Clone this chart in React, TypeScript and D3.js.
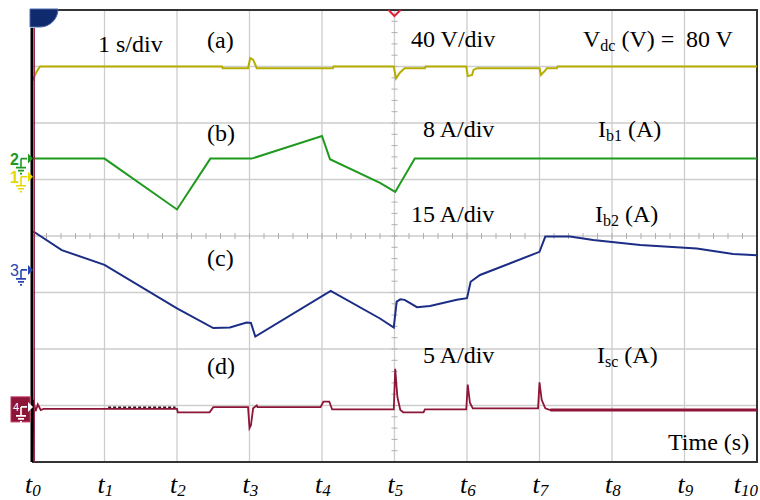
import React from 'react';
import * as d3 from 'd3';

// time in seconds (1 s/div), amplitude in screen divisions (0 = centre line)
const timeLabels = ['0', '1', '2', '3', '4', '5', '6', '7', '8', '9', '10'];

const vdcTrace: [number, number][] = [
    [0.01, 2.75], [0.06, 2.9], [0.11, 3.0], [2.62, 3.0], [2.63, 2.97], [2.98, 2.97],
    [3.01, 3.15], [3.05, 3.12], [3.1, 2.97], [4.15, 2.97], [4.16, 3.0], [4.99, 3.0],
    [5.02, 2.79], [5.08, 2.9], [5.14, 2.97], [5.42, 2.97], [5.43, 3.0], [5.99, 3.0],
    [6.01, 2.83], [6.07, 2.85], [6.09, 2.94], [6.14, 2.97], [7.0, 2.97], [7.02, 2.85],
    [7.08, 2.93], [7.1, 2.97], [7.24, 2.97], [7.25, 3.0], [10, 3.0],
];

const ib1Trace: [number, number][] = [
    [0.01, 1.37], [1.0, 1.37], [2.0, 0.47], [2.46, 1.37], [3.03, 1.37], [4.0, 1.77],
    [4.11, 1.36], [4.8, 0.94], [5.01, 0.78], [5.28, 1.37], [10, 1.37],
];

const ib2Trace: [number, number][] = [
    [0.02, 0.08], [0.41, -0.25], [1.0, -0.51], [2.0, -1.28], [2.5, -1.63], [2.73, -1.62],
    [2.96, -1.53], [3.02, -1.54], [3.08, -1.78], [4.12, -0.97], [4.8, -1.46], [4.99, -1.62],
    [5.03, -1.16], [5.08, -1.12], [5.14, -1.13], [5.31, -1.26], [5.49, -1.24], [5.86, -1.13],
    [6.0, -1.1], [6.05, -0.81], [6.18, -0.69], [7.0, -0.28], [7.08, -0.01], [7.42, -0.01],
    [7.74, -0.07], [8.39, -0.16], [9.17, -0.22], [9.67, -0.32], [10, -0.34],
];

const iscTrace: [number, number][] = [
    [0.0, -2.5], [0.01, -4.0], [0.02, -2.9], [0.05, -3.1], [0.08, -2.98], [0.12, -3.08],
    [0.16, -3.06], [2.0, -3.06], [2.01, -3.12], [2.45, -3.12], [2.5, -3.03], [2.98, -3.03],
    [3.0, -3.4], [3.02, -3.35], [3.05, -3.05], [3.1, -3.0], [3.11, -3.03], [3.98, -3.03],
    [4.02, -2.93], [4.1, -2.93], [4.14, -3.07], [4.99, -3.07], [5.01, -2.35], [5.04, -2.85],
    [5.08, -3.08], [5.12, -3.12], [5.4, -3.12], [5.42, -3.07], [5.99, -3.07], [6.01, -2.63],
    [6.04, -2.95], [6.08, -3.05], [6.98, -3.05], [7.0, -2.59], [7.03, -2.9], [7.08, -3.05],
    [7.15, -3.08], [10, -3.08],
];

// sampling noise seen on the Isc trace between t1 and t2
const iscNoise: [number, number][] = [[1.05, -3.03], [1.98, -3.03]];

const W = 760;
const H = 500;
const serif = '"Liberation Serif", "Times New Roman", serif';
const sans = '"Liberation Sans", Arial, sans-serif';

const x = d3.scaleLinear().domain([0, 10]).range([32, 757]);
const y = d3.scaleLinear().domain([-4, 4]).range([462, 10]);

const line = d3.line<[number, number]>()
    .x(d => x(d[0]))
    .y(d => y(d[1]));

const GroundMark = ({ cx, cy, color }: { cx: number; cy: number; color: string }) => (
    <g stroke={color} strokeWidth={1.6} fill="none">
        <path d={`M${cx},${cy} H${cx + 6} M${cx},${cy} V${cy + 9}`} />
        <path d={`M${cx - 5},${cy + 9} H${cx + 5} M${cx - 3},${cy + 12} H${cx + 3} M${cx - 1},${cy + 15} H${cx + 1}`} />
        <path d={`M${cx + 7},${cy - 5} L${cx + 12},${cy} L${cx + 7},${cy + 5} Z`} fill={color} stroke="none" />
    </g>
);

const App = () => {
    const vLines = d3.range(1, 10);
    const hLines = d3.range(-3, 4);
    const minorY = d3.range(-4, 4.01, 0.2);
    const minorX = d3.range(0, 10.01, 0.2);

    return (
        <svg width={W} height={H} style={{ position: 'absolute', left: 0, top: 0, background: '#fff' }}>
            {/* grid */}
            <g stroke="#cdcdcd" strokeWidth={1.3}>
                {vLines.map(t => <line key={'v' + t} x1={x(t)} x2={x(t)} y1={y(4)} y2={y(-4)} />)}
                {hLines.map(v => <line key={'h' + v} x1={x(0)} x2={x(10)} y1={y(v)} y2={y(v)} />)}
            </g>
            <g stroke="#b0b0b0" strokeWidth={1}>
                {minorY.map(v => <line key={'my' + v} x1={x(5) - 3} x2={x(5) + 3} y1={y(v)} y2={y(v)} />)}
                {minorX.map(t => <line key={'mx' + t} x1={x(t)} x2={x(t)} y1={y(0) - 3} y2={y(0) + 3} />)}
            </g>

            {/* frame */}
            <path d={`M${x(0)},${y(4)} H${x(10)} V${y(-4)} H${x(0)}`} fill="none" stroke="#333" strokeWidth={2} />

            {/* traces */}
            <path d={line(vdcTrace) ?? ''} fill="none" stroke="#b5ad00" strokeWidth={2} />
            <path d={line(ib1Trace) ?? ''} fill="none" stroke="#1f9a1f" strokeWidth={2} />
            <path d={line(ib2Trace) ?? ''} fill="none" stroke="#1c2d86" strokeWidth={2} />
            <path d={line(iscTrace) ?? ''} fill="none" stroke="#8c1538" strokeWidth={1.8} />
            <path d={line(iscTrace.filter(d => d[0] >= 7.15)) ?? ''} fill="none" stroke="#8c1538" strokeWidth={3} />
            <path d={line(iscNoise) ?? ''} fill="none" stroke="#3a1020" strokeWidth={1.5} strokeDasharray="3 2" />

            {/* left edge */}
            <line x1={x(0)} x2={x(0)} y1={y(4) + 18} y2={y(-4)} stroke="#000" strokeWidth={3} />
            <line x1={x(0) + 2.5} x2={x(0) + 2.5} y1={y(4) + 18} y2={y(-4)} stroke="#a0284c" strokeWidth={1} />

            {/* top markers */}
            <path d={`M30,9 H58 A18,18 0 0 1 40,27 H30 Z`} fill="#0f2b6e" stroke="#4a6aa8" strokeWidth={1} />
            <path d={`M${x(5) - 6},10 L${x(5)},16 L${x(5) + 6},10`} fill="none" stroke="#e0203a" strokeWidth={2} />

            {/* channel markers */}
            <text x={10} y={y(1.37) + 6} fontFamily={sans} fontSize={16} fontWeight="bold" fill="#1f9a1f">2</text>
            <GroundMark cx={21} cy={y(1.37)} color="#1f9a1f" />
            <text x={10} y={y(1.05) + 6} fontFamily={sans} fontSize={16} fontWeight="bold" fill="#e6d800">1</text>
            <GroundMark cx={21} cy={y(1.05)} color="#e6d800" />
            <text x={10} y={y(-0.6) + 6} fontFamily={sans} fontSize={16} fill="#2a46b0">3</text>
            <GroundMark cx={21} cy={y(-0.6)} color="#2a46b0" />
            <rect x={11} y={y(-3.06) - 12} width={19} height={25} fill="#8c1538" stroke="#c03060" strokeWidth={1} />
            <text x={13} y={y(-3.06) + 2} fontFamily={sans} fontSize={11} fill="#fff">4</text>
            <GroundMark cx={21} cy={y(-3.06) - 2} color="#fff" />

            {/* annotations */}
            <g fontFamily={serif} fontSize={24} fill="#000">
                <text x={98} y={52}>1 s/div</text>
                <text x={207} y={48}>(a)</text>
                <text x={411} y={47}>40 V/div</text>
                <text x={583} y={47}>V<tspan fontSize={16} dy={4}>dc</tspan><tspan dy={-4}> (V) =</tspan></text>
                <text x={686} y={47}>80 V</text>

                <text x={207} y={141}>(b)</text>
                <text x={423} y={137}>8 A/div</text>
                <text x={598} y={137}>I<tspan fontSize={16} dy={4}>b1</tspan><tspan dy={-4}> (A)</tspan></text>

                <text x={411} y={222}>15 A/div</text>
                <text x={595} y={222}>I<tspan fontSize={16} dy={4}>b2</tspan><tspan dy={-4}> (A)</tspan></text>

                <text x={207} y={266}>(c)</text>
                <text x={207} y={374}>(d)</text>
                <text x={423} y={363}>5 A/div</text>
                <text x={597} y={363}>I<tspan fontSize={16} dy={4}>sc</tspan><tspan dy={-4}> (A)</tspan></text>

                <text x={668} y={450}>Time (s)</text>
            </g>

            {/* time axis labels */}
            <g fontFamily={serif} fontStyle="italic" fill="#000">
                {timeLabels.map((lab, i) => (
                    <text key={lab} x={i === 10 ? x(i) + 1 : x(i) - 7} y={493} fontSize={26}
                        textAnchor={i === 10 ? 'end' : 'start'}>
                        t<tspan fontSize={17} dy={3}>{lab}</tspan>
                    </text>
                ))}
            </g>
        </svg>
    );
};

export default App;
